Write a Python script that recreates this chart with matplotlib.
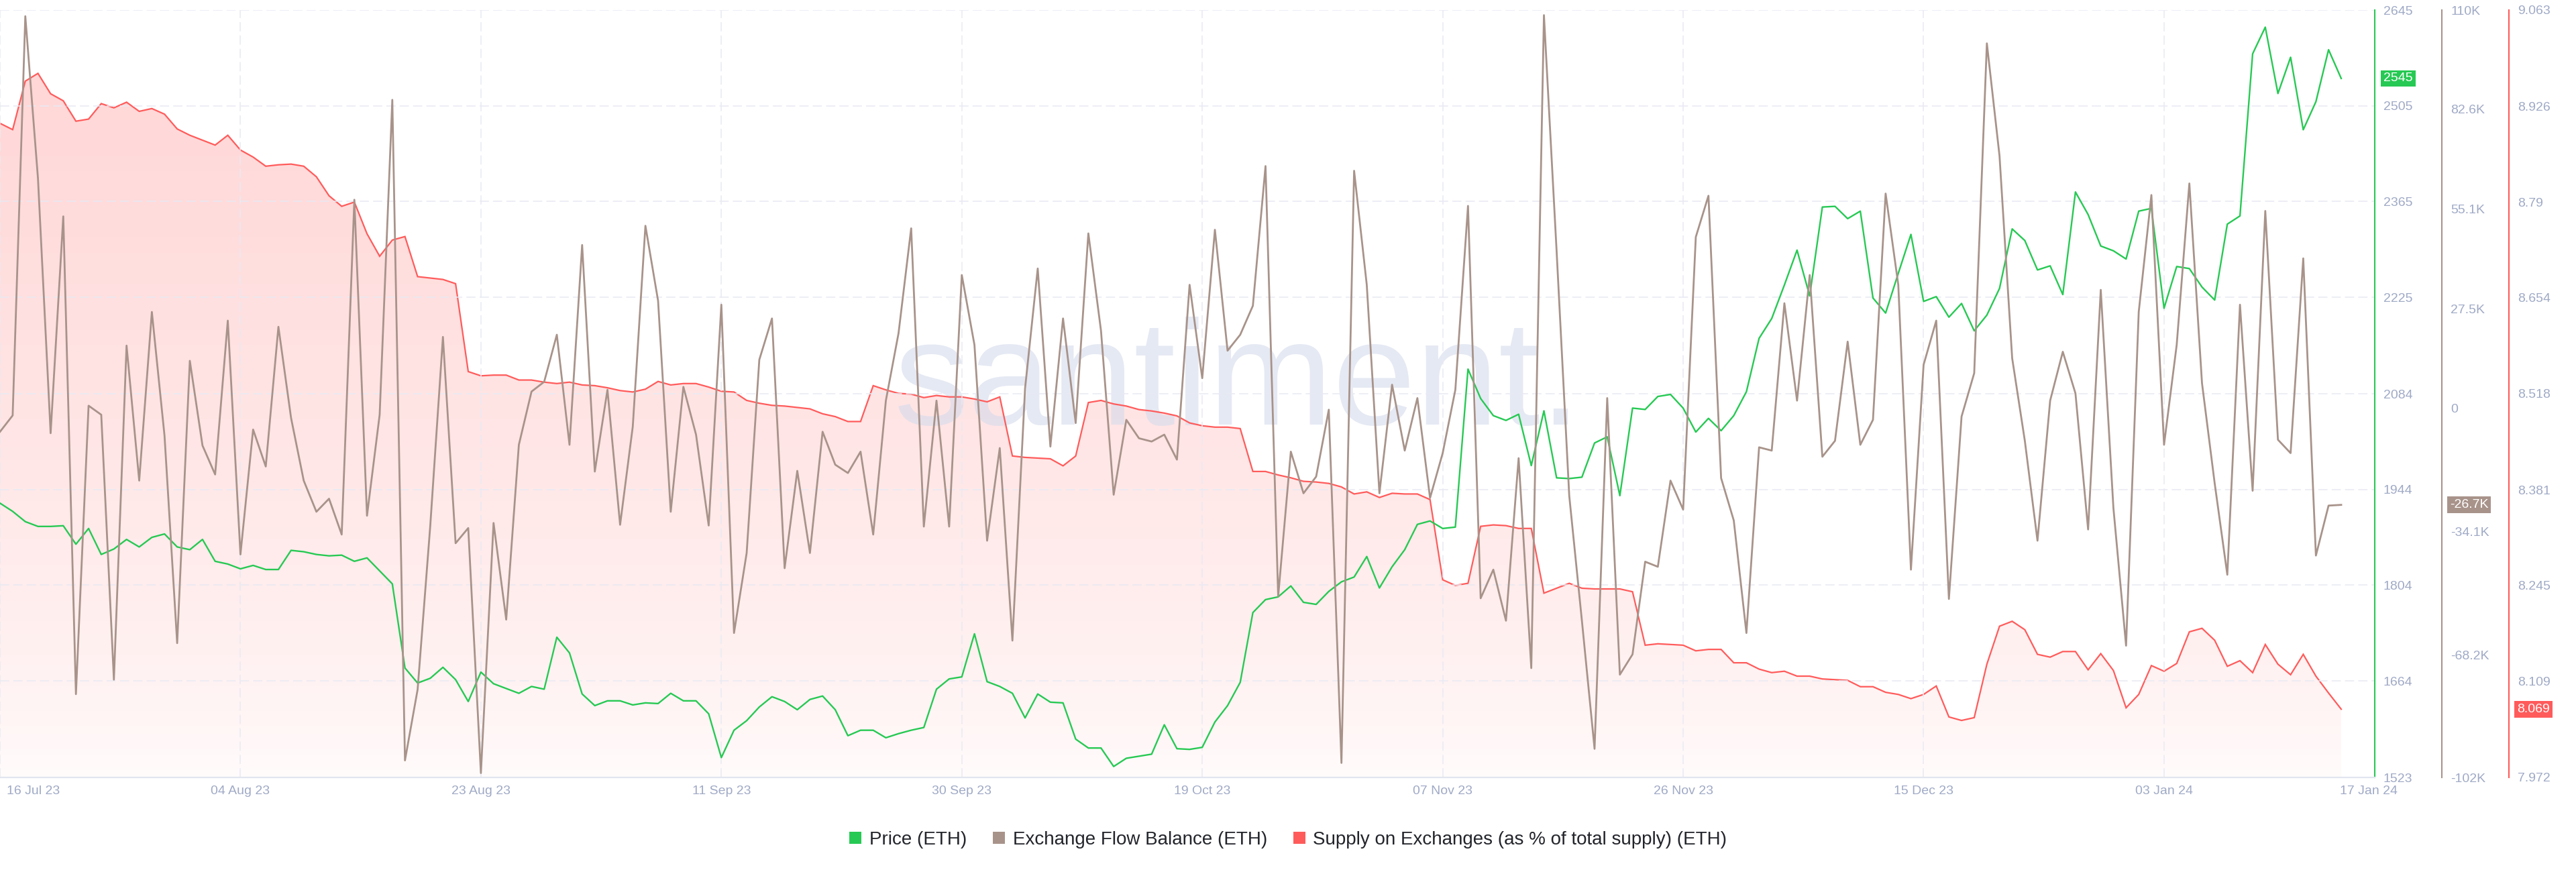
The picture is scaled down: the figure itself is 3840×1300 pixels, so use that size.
import numpy as np
import pandas as pd
import matplotlib
matplotlib.use('Agg')
import matplotlib.pyplot as plt
import matplotlib.dates as mdates
from matplotlib.patches import Polygon
from matplotlib.lines import Line2D
from matplotlib.transforms import blended_transform_factory, offset_copy

plt.rcParams['font.family'] = ['Liberation Sans', 'DejaVu Sans']

# ---- data (daily, 16 Jul 2023 .. 17 Jan 2024) ----
dates = pd.date_range('2023-07-16', '2024-01-17', freq='D')

price = [1924, 1912, 1897, 1890, 1890, 1891, 1864, 1887, 1849, 1857,
         1871, 1860, 1874, 1879, 1860, 1856, 1871, 1839, 1835, 1828,
         1833, 1827, 1827, 1855, 1853, 1849, 1847, 1848, 1839, 1844,
         1825, 1806, 1683, 1661, 1668, 1684, 1666, 1634, 1677, 1660,
         1653, 1646, 1656, 1652, 1728, 1705, 1645, 1628, 1635, 1635,
         1629, 1632, 1631, 1646, 1635, 1635, 1616, 1552, 1592, 1606,
         1626, 1641, 1634, 1622, 1637, 1642, 1622, 1584, 1592, 1592,
         1581, 1587, 1592, 1596, 1652, 1667, 1670, 1733, 1663, 1656,
         1646, 1610, 1645, 1633, 1632, 1579, 1566, 1566, 1539, 1551,
         1554, 1557, 1600, 1565, 1564, 1567, 1604, 1628, 1662, 1764,
         1783, 1787, 1803, 1779, 1776, 1795, 1809, 1816, 1846, 1800,
         1831, 1856, 1893, 1898, 1887, 1889, 2120, 2077, 2052, 2045,
         2054, 1979, 2059, 1961, 1960, 1962, 2012, 2021, 1935, 2063,
         2061, 2080, 2083, 2063, 2028, 2048, 2030, 2052, 2087, 2165,
         2194, 2243, 2294, 2227, 2357, 2358, 2340, 2351, 2224, 2202,
         2260, 2317, 2219, 2226, 2196, 2216, 2176, 2199, 2238, 2325,
         2308, 2265, 2271, 2229, 2379, 2346, 2300, 2293, 2281, 2351,
         2355, 2209, 2270, 2267, 2240, 2221, 2332, 2344, 2581, 2620,
         2523, 2576, 2470, 2511, 2587, 2545]

# exchange flow balance, thousands of ETH
flow = [-6.5, -2, 108.3, 63.5, -6.9, 53, -79, 0.7, -1.8, -75,
        17.3, -20, 26.6, -7.6, -64.9, 13.1, -10.3, -18.3, 24.2, -40.4,
        -5.9, -16.1, 22.5, -2.7, -20, -28.6, -25, -34.9, 57.6, -29.7,
        -1.8, 85.2, -97.3, -77.7, -32.4, 19.7, -37.3, -33.1, -100.8, -31.7,
        -58.4, -10.1, 4.6, 7.3, 20.3, -10.1, 45.1, -17.5, 5.1, -32.2,
        -5.1, 50.4, 29.7, -28.6, 5.9, -7.3, -32.4, 28.6, -62.1, -40,
        13.4, 24.8, -44.2, -17.3, -40, -6.5, -15.6, -17.9, -12, -34.9,
        2.1, 20.7, 49.7, -32.7, 2.1, -32.7, 36.8, 17.5, -36.6, -11,
        -64.2, 5.5, 38.6, -10.6, 24.8, -4.1, 48.3, 21.4, -23.9, -3.2,
        -8.3, -9.2, -7.3, -14.2, 34.1, 8.3, 49.3, 15.9, 20.3, 28.3,
        66.9, -52, -12, -23.5, -18.9, -0.4, -98, 65.6, 34.1, -23.5,
        6.5, -11.7, 2.8, -24.8, -12.4, 5.1, 55.9, -52.5, -44.6, -58.7,
        -13.8, -71.8, 108.6, 43.5, -24.2, -58.7, -94.1, 2.8, -73.6, -68,
        -42.4, -43.8, -20, -28, 47.3, 58.7, -19.3, -31, -62.1, -10.8,
        -11.7, 29, 2.1, 36.8, -13.4, -9, 18.4, -10.1, -3.2, 59.3,
        34.1, -44.6, 12, 24.2, -52.7, -2.3, 9.7, 100.8, 69.7, 13.8,
        -9, -36.6, 2.1, 15.6, 4.1, -33.5, 32.7, -27.6, -65.6, 26.6,
        58.9, -10.1, 17.5, 62.1, 6.9, -20.7, -46, 28.6, -22.8, 54.5,
        -8.7, -12.4, 41.4, -40.7, -26.9, -26.7]

# supply on exchanges, % of total supply
supply = [8.902, 8.893, 8.962, 8.973, 8.944, 8.934, 8.905, 8.908, 8.930, 8.924,
          8.932, 8.919, 8.923, 8.915, 8.894, 8.885, 8.878, 8.871, 8.885, 8.864,
          8.854, 8.841, 8.843, 8.844, 8.841, 8.826, 8.799, 8.784, 8.790, 8.745,
          8.713, 8.736, 8.741, 8.684, 8.682, 8.680, 8.674, 8.549, 8.543, 8.544,
          8.544, 8.537, 8.537, 8.534, 8.532, 8.534, 8.530, 8.529, 8.526, 8.522,
          8.520, 8.524, 8.535, 8.530, 8.532, 8.532, 8.527, 8.521, 8.520, 8.508,
          8.504, 8.501, 8.500, 8.498, 8.496, 8.489, 8.485, 8.478, 8.478, 8.529,
          8.523, 8.518, 8.517, 8.512, 8.515, 8.513, 8.513, 8.510, 8.506, 8.513,
          8.429, 8.427, 8.426, 8.425, 8.415, 8.429, 8.505, 8.508, 8.503, 8.500,
          8.495, 8.493, 8.490, 8.486, 8.476, 8.472, 8.470, 8.470, 8.468, 8.407,
          8.407, 8.402, 8.398, 8.393, 8.392, 8.390, 8.385, 8.375, 8.378, 8.370,
          8.376, 8.375, 8.375, 8.367, 8.253, 8.245, 8.248, 8.329, 8.331, 8.330,
          8.326, 8.326, 8.234, 8.241, 8.248, 8.241, 8.240, 8.240, 8.240, 8.236,
          8.160, 8.162, 8.161, 8.160, 8.152, 8.154, 8.154, 8.135, 8.135, 8.126,
          8.121, 8.123, 8.116, 8.116, 8.112, 8.111, 8.110, 8.101, 8.101, 8.093,
          8.090, 8.084, 8.090, 8.102, 8.058, 8.053, 8.057, 8.133, 8.187, 8.194,
          8.182, 8.147, 8.143, 8.151, 8.151, 8.125, 8.148, 8.124, 8.071, 8.090,
          8.131, 8.123, 8.134, 8.179, 8.184, 8.167, 8.130, 8.138, 8.121, 8.161,
          8.133, 8.118, 8.147, 8.116, 8.092, 8.069]

price_ticks = [1523, 1664, 1804, 1944, 2084, 2225, 2365, 2505, 2645]
flow_ticks = [-102, -68.2, -34.1, 0, 27.5, 55.1, 82.6, 110]
flow_tick_labels = ['-102K', '-68.2K', '-34.1K', '0', '27.5K', '55.1K', '82.6K', '110K']
supply_ticks = [7.972, 8.109, 8.245, 8.381, 8.518, 8.654, 8.79, 8.926, 9.063]
supply_tick_labels = ['7.972', '8.109', '8.245', '8.381', '8.518', '8.654', '8.79', '8.926', '9.063']

xtick_dates = ['2023-07-16', '2023-08-04', '2023-08-23', '2023-09-11', '2023-09-30',
               '2023-10-19', '2023-11-07', '2023-11-26', '2023-12-15', '2024-01-03']
xtick_labels = ['16 Jul 23', '04 Aug 23', '23 Aug 23', '11 Sep 23', '30 Sep 23',
                '19 Oct 23', '07 Nov 23', '26 Nov 23', '15 Dec 23', '03 Jan 24']
last_label = '17 Jan 24'

GREEN = '#26c953'
BROWN = '#a8938a'
RED = '#ff5b5b'
TICK_C = '#a0aac6'
GRID_C = '#e8eaf3'

# ---- figure ----
W, H = 3840, 1300
fig = plt.figure(figsize=(W / 100, H / 100), dpi=100)
fig.patch.set_facecolor('white')

left, right_px, top_px, bot_px = 0, 3540, 15, 1159
rect = [left / W, (H - bot_px) / H, (right_px - left) / W, (bot_px - top_px) / H]
ax = fig.add_axes(rect)
ax2 = ax.twinx()
ax3 = ax.twinx()
ax3.set_zorder(1)
ax.set_zorder(2)
ax2.set_zorder(3)
for a in (ax, ax2, ax3):
    a.patch.set_visible(False)
    for s in ('top', 'left', 'bottom'):
        a.spines[s].set_visible(False)

x = mdates.date2num(dates)
x0 = x[0]
x1 = x0 + 187.65
ylo, yhi = 7.972, 9.063

# supply: gradient fill + line
ax3.set_xlim(x0, x1)
ax3.set_ylim(ylo, yhi)
t = np.linspace(0, 1, 300)
alpha = 0.02 + 0.24 * (1 - t) ** 0.7
grad = np.zeros((300, 1, 4))
grad[:, 0, 0] = 1.0
grad[:, 0, 1] = 91 / 255
grad[:, 0, 2] = 91 / 255
grad[:, 0, 3] = alpha
im = ax3.imshow(grad, extent=(x0, x1, ylo, yhi), aspect='auto', origin='upper', zorder=1)
verts = list(zip(x, supply)) + [(x[-1], ylo), (x[0], ylo)]
poly = Polygon(verts, closed=True, facecolor='none', edgecolor='none', transform=ax3.transData)
ax3.add_patch(poly)
im.set_clip_path(poly)
ax3.plot(x, supply, color=RED, lw=1.6, zorder=3, solid_joinstyle='miter')
ax3.set_xlim(x0, x1)
ax3.set_ylim(ylo, yhi)

# watermark
ax3.text(0.4805, 0.5131, 'santiment.', transform=fig.transFigure, ha='center', va='baseline',
         fontsize=160, color='#d5dbec', alpha=0.6, zorder=2)

# price
ax.plot(x, price, color=GREEN, lw=1.7, zorder=3)
ax.set_xlim(x0, x1)
ax.set_ylim(1523, 2645)

# flow
ax2.plot(x, flow, color=BROWN, lw=2.0, zorder=3)
ax2.set_xlim(x0, x1)
ax2.set_ylim(-102, 110)

# grid (price axis)
ax.set_yticks(price_ticks)
ax.set_xticks(mdates.date2num(pd.to_datetime(xtick_dates)))
ax.grid(True, color=GRID_C, lw=1.1, linestyle=(0, (9, 4)))
ax.tick_params(axis='x', length=0, labelbottom=False)
ax.spines['bottom'].set_visible(True)
ax.spines['bottom'].set_color('#e1e5ef')
ax.spines['bottom'].set_linewidth(1.6)

# right axes
pad_pt = 13 * 0.72
ax.yaxis.tick_right()
ax.tick_params(axis='y', length=0, pad=pad_pt, labelsize=14, labelcolor=TICK_C)
ax.spines['right'].set_color(GREEN)
ax.spines['right'].set_linewidth(1.5)

ax2.set_yticks(flow_ticks)
ax2.set_yticklabels(flow_tick_labels)
ax2.tick_params(axis='y', length=0, pad=pad_pt, labelsize=14, labelcolor=TICK_C)
ax2.spines['right'].set_position(('axes', 3640 / 3540))
ax2.spines['right'].set_color(BROWN)
ax2.spines['right'].set_linewidth(1.5)

ax3.set_yticks(supply_ticks)
ax3.set_yticklabels(supply_tick_labels)
ax3.tick_params(axis='y', length=0, pad=pad_pt, labelsize=14, labelcolor=TICK_C)
ax3.spines['right'].set_position(('axes', 3740 / 3540))
ax3.spines['right'].set_color(RED)
ax3.spines['right'].set_linewidth(1.5)
for a in (ax2, ax3):
    a.tick_params(axis='x', length=0, labelbottom=False)

# x labels drawn as text
lab_y = -20 / (bot_px - top_px)
xt = blended_transform_factory(ax.transData, ax.transAxes)
for i, (d, lab) in enumerate(zip(xtick_dates, xtick_labels)):
    xv = mdates.date2num(pd.Timestamp(d))
    if i == 0:
        ax.text(xv, lab_y, lab, transform=offset_copy(xt, fig=fig, x=10, y=0, units='dots'),
                ha='left', va='center', fontsize=14, color=TICK_C)
    else:
        ax.text(xv, lab_y, lab, transform=xt, ha='center', va='center', fontsize=14, color=TICK_C)
ax.text(x[-1], lab_y, last_label, transform=offset_copy(xt, fig=fig, x=-2, y=0, units='dots'),
        ha='left', va='center', fontsize=14, color=TICK_C)

# last-value badges
def badge(axis, xpos_px, value, text, color):
    tr = blended_transform_factory(fig.transFigure, axis.transData)
    axis.text(xpos_px / W, value, text, transform=tr, ha='left', va='center', fontsize=14,
              color='white', zorder=10, clip_on=False,
              bbox=dict(boxstyle='square,pad=0.2', fc=color, ec='none'))

badge(ax, 3553, price[-1], f'{price[-1]}', GREEN)
badge(ax2, 3652, flow[-1], f'{flow[-1]:.1f}K', BROWN)
badge(ax3, 3752, supply[-1], f'{supply[-1]:.3f}', RED)

# legend
handles = [Line2D([], [], ls='none', marker='s', markersize=12.5, markeredgewidth=0, color=c)
           for c in (GREEN, BROWN, RED)]
labels = ['Price (ETH)', 'Exchange Flow Balance (ETH)', 'Supply on Exchanges (as % of total supply) (ETH)']
fig.legend(handles, labels, loc='center', bbox_to_anchor=(0.5, 48 / H), ncol=3, frameon=False,
           fontsize=20, handlelength=0.7, handletextpad=0.4, columnspacing=1.36,
           labelcolor='#23252b')

fig.savefig('out.png', dpi=100, facecolor='white')
